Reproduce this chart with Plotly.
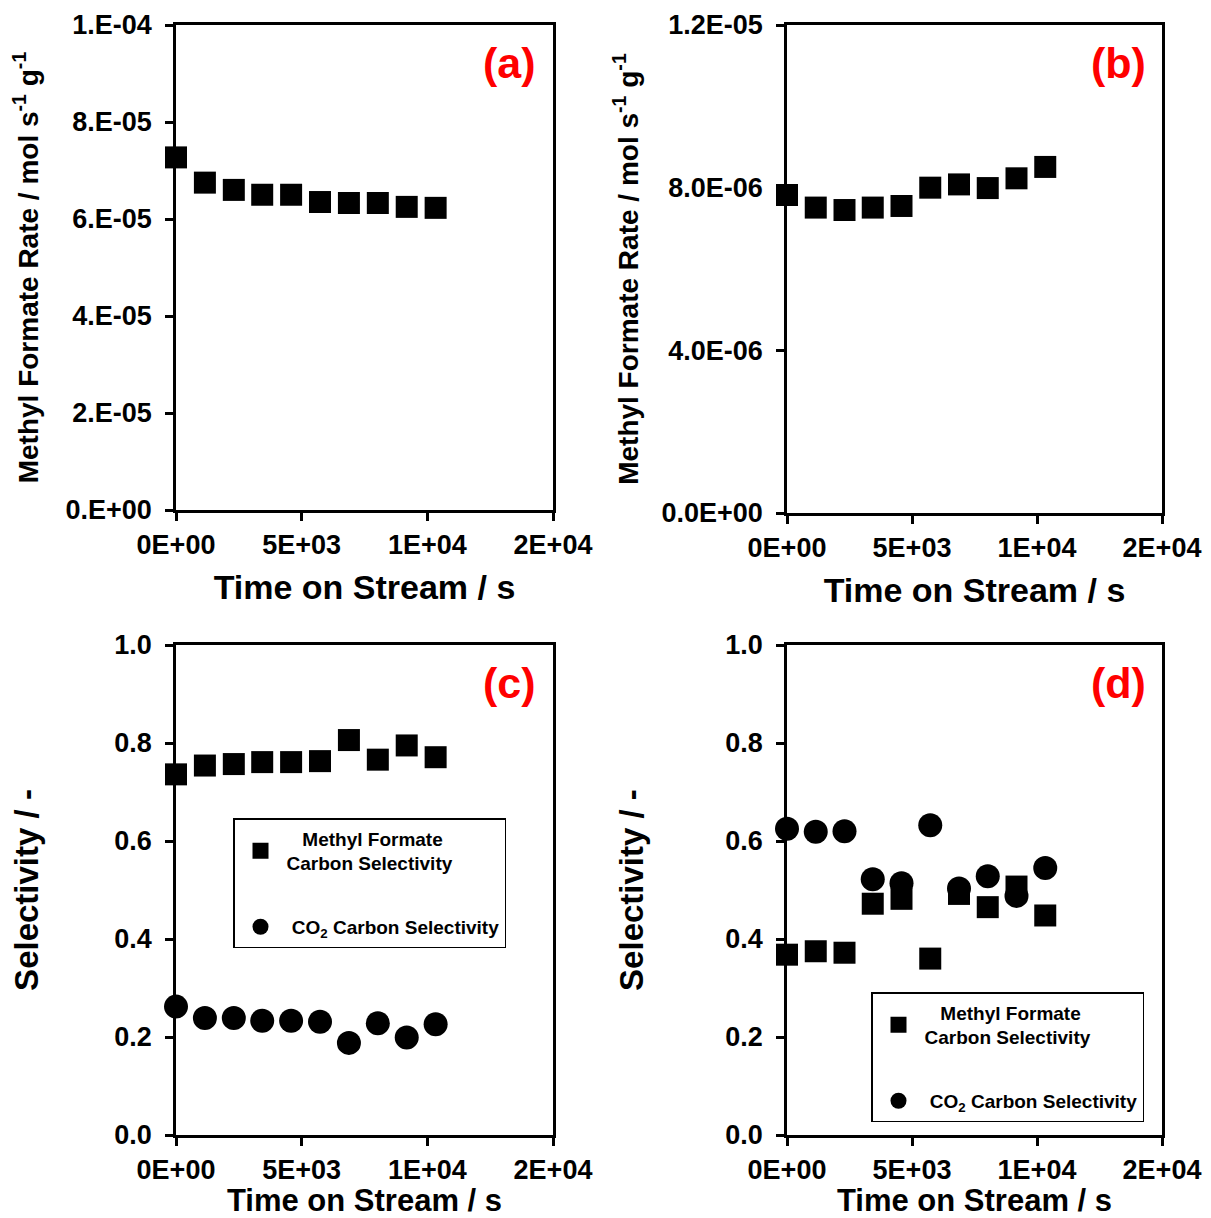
import plotly.graph_objects as go

# ---- data ----
time_s = [0, 1150, 2300, 3430, 4580, 5730, 6880, 8030, 9180, 10330]

rate_a = [7.27e-5, 6.75e-5, 6.60e-5, 6.50e-5, 6.50e-5, 6.35e-5, 6.33e-5, 6.33e-5, 6.25e-5, 6.23e-5]
rate_b = [7.82e-6, 7.51e-6, 7.45e-6, 7.51e-6, 7.55e-6, 8.00e-6, 8.08e-6, 7.99e-6, 8.23e-6, 8.51e-6]

mf_sel_c = [0.736, 0.754, 0.757, 0.761, 0.761, 0.763, 0.806, 0.766, 0.795, 0.771]
co2_sel_c = [0.262, 0.239, 0.239, 0.233, 0.233, 0.231, 0.188, 0.228, 0.199, 0.226]

mf_sel_d = [0.368, 0.375, 0.372, 0.472, 0.482, 0.360, 0.492, 0.465, 0.507, 0.448]
co2_sel_d = [0.625, 0.619, 0.620, 0.522, 0.514, 0.632, 0.503, 0.528, 0.488, 0.545]

x_tickvals = [0, 5000, 10000, 15000]
x_ticktext = ["0E+00", "5E+03", "1E+04", "2E+04"]

ya_tickvals = [0, 2e-5, 4e-5, 6e-5, 8e-5, 1e-4]
ya_ticktext = ["0.E+00", "2.E-05", "4.E-05", "6.E-05", "8.E-05", "1.E-04"]
yb_tickvals = [0, 4e-6, 8e-6, 1.2e-5]
yb_ticktext = ["0.0E+00", "4.0E-06", "8.0E-06", "1.2E-05"]
ysel_tickvals = [0, 0.2, 0.4, 0.6, 0.8, 1.0]
ysel_ticktext = ["0.0", "0.2", "0.4", "0.6", "0.8", "1.0"]

panel_labels = ["(a)", "(b)", "(c)", "(d)"]
mf_name = "\u00a0\u00a0\u00a0Methyl Formate<br>Carbon Selectivity"
co2_name = "\u00a0CO<sub>2</sub> Carbon Selectivity"

FONT = "Liberation Sans, Arial, sans-serif"
OFF = 8  # page body margin
W, H = 1211 - OFF, 1218 - OFF

fig = go.Figure()

sq = dict(symbol="square", size=22, color="black")
ci = dict(symbol="circle", size=24, color="black")

fig.add_trace(go.Scatter(x=time_s, y=rate_a, mode="markers", marker=sq, xaxis="x", yaxis="y",
                         showlegend=False, cliponaxis=False))
fig.add_trace(go.Scatter(x=time_s, y=rate_b, mode="markers", marker=sq, xaxis="x2", yaxis="y2",
                         showlegend=False, cliponaxis=False))
fig.add_trace(go.Scatter(x=time_s, y=mf_sel_c, mode="markers", marker=sq, xaxis="x3", yaxis="y3",
                         name=mf_name, legend="legend", legendgroup="c1", cliponaxis=False))
fig.add_trace(go.Scatter(x=time_s, y=co2_sel_c, mode="markers", marker=ci, xaxis="x3", yaxis="y3",
                         name=co2_name, legend="legend", legendgroup="c2", cliponaxis=False))
fig.add_trace(go.Scatter(x=time_s, y=mf_sel_d, mode="markers", marker=sq, xaxis="x4", yaxis="y4",
                         name=mf_name, legend="legend2", legendgroup="d1", cliponaxis=False))
fig.add_trace(go.Scatter(x=time_s, y=co2_sel_d, mode="markers", marker=ci, xaxis="x4", yaxis="y4",
                         name=co2_name, legend="legend2", legendgroup="d2", cliponaxis=False))


def px_x(p):
    return (p - OFF) / W


def px_y(p):
    return 1 - (p - OFF) / H


def xdom(l, r):
    return [px_x(l), px_x(r)]


def ydom(t, b):
    return [px_y(b), px_y(t)]


TICKFONT = dict(family=FONT, size=27, color="black", weight="bold")

common_x = dict(range=[0, 15000], tickvals=x_tickvals, ticktext=x_ticktext,
                showline=True, linecolor="black", linewidth=2.5, mirror=True,
                ticks="outside", ticklen=8, tickwidth=2.5, tickcolor="black",
                showgrid=False, zeroline=False, automargin=False,
                ticklabelstandoff=1, tickfont=TICKFONT)
common_y = dict(showline=True, linecolor="black", linewidth=2.5, mirror=True,
                ticks="outside", ticklen=8, tickwidth=2.5, tickcolor="black",
                showgrid=False, zeroline=False, automargin=False,
                ticklabelstandoff=8, tickfont=TICKFONT)

x_title = "<b>Time on Stream / s</b>"
rate_title = "<b>Methyl Formate Rate / mol s<sup>-1</sup> g<sup>-1</sup></b>"
sel_title = "<b>Selectivity / -</b>"
RATE_TFONT = dict(family=FONT, size=28, color="black")
SEL_TFONT = dict(family=FONT, size=33, color="black")
LEG_FONT = dict(family=FONT, size=19, color="black", weight="bold")

top_xtitle = dict(text=x_title, standoff=17, font=dict(family=FONT, size=34, color="black"))
bot_xtitle = dict(text=x_title, standoff=12, font=dict(family=FONT, size=31, color="black"))

fig.update_layout(
    width=W, height=H,
    margin=dict(l=0, r=0, t=0, b=0),
    paper_bgcolor="white", plot_bgcolor="white",
    font=dict(family=FONT, color="black"),
    xaxis=dict(common_x, domain=xdom(176, 553), anchor="y", title=top_xtitle),
    yaxis=dict(common_y, domain=ydom(25, 510), anchor="x", range=[0, 1e-4],
               tickvals=ya_tickvals, ticktext=ya_ticktext,
               title=dict(text=rate_title, standoff=31, font=RATE_TFONT)),
    xaxis2=dict(common_x, domain=xdom(787, 1162), anchor="y2", title=top_xtitle),
    yaxis2=dict(common_y, domain=ydom(25, 513), anchor="x2", range=[0, 1.2e-5],
                tickvals=yb_tickvals, ticktext=yb_ticktext,
                title=dict(text=rate_title, standoff=15, font=RATE_TFONT)),
    xaxis3=dict(common_x, domain=xdom(176, 553), anchor="y3", title=bot_xtitle),
    yaxis3=dict(common_y, domain=ydom(645, 1135), anchor="x3", range=[0, 1.0],
                tickvals=ysel_tickvals, ticktext=ysel_ticktext,
                title=dict(text=sel_title, standoff=73, font=SEL_TFONT)),
    xaxis4=dict(common_x, domain=xdom(787, 1162), anchor="y4", title=bot_xtitle),
    yaxis4=dict(common_y, domain=ydom(645, 1135), anchor="x4", range=[0, 1.0],
                tickvals=ysel_tickvals, ticktext=ysel_ticktext,
                title=dict(text=sel_title, standoff=72, font=SEL_TFONT)),
    legend=dict(x=px_x(233), y=px_y(818), xanchor="left", yanchor="top",
                bordercolor="black", borderwidth=1.5, bgcolor="white", font=LEG_FONT,
                tracegroupgap=36, traceorder="grouped", itemsizing="trace", itemwidth=42),
    legend2=dict(x=px_x(871), y=px_y(992), xanchor="left", yanchor="top",
                 bordercolor="black", borderwidth=1.5, bgcolor="white", font=LEG_FONT,
                 tracegroupgap=36, traceorder="grouped", itemsizing="trace", itemwidth=42),
)

axes_refs = [("x", "y"), ("x2", "y2"), ("x3", "y3"), ("x4", "y4")]
for (xr, yr), lab in zip(axes_refs, panel_labels):
    fig.add_annotation(text=f"<b>{lab}</b>", xref=f"{xr} domain", yref=f"{yr} domain",
                       x=0.885, y=0.922, xanchor="center", yanchor="middle", showarrow=False,
                       font=dict(family=FONT, size=43, color="#ff0000"))

fig.write_html("out.html")
